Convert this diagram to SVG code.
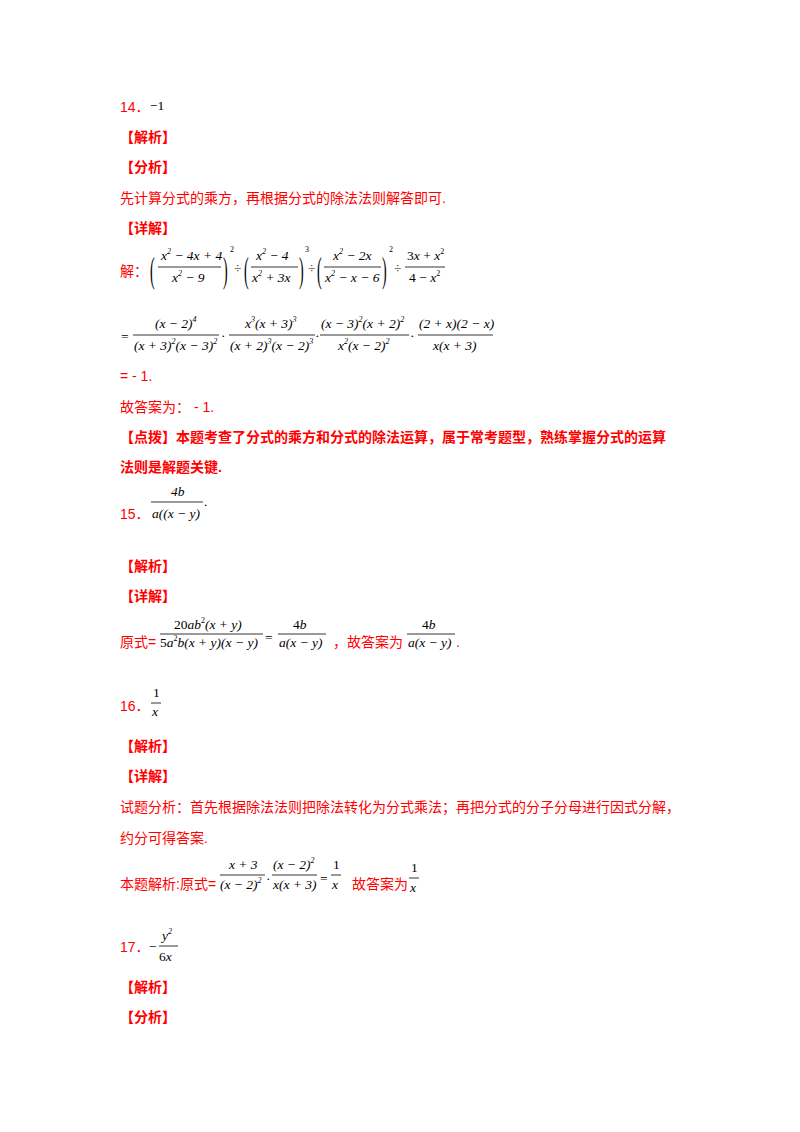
<svg xmlns="http://www.w3.org/2000/svg" width="800" height="1132" viewBox="0 0 800 1132">
<style>
.c{font-family:"Liberation Sans","Noto Sans CJK SC",sans-serif;font-size:14px;fill:#ff0000}
.b{font-family:"Liberation Sans","Noto Sans CJK SC",sans-serif;font-size:14px;fill:#ff0000;font-weight:bold}
.m{font-family:"Liberation Serif",serif;font-size:13.5px;fill:#000;font-style:italic}
.n{font-family:"Liberation Serif",serif;font-size:13.5px;fill:#000}
.s{font-family:"Liberation Serif",serif;font-size:8px;fill:#000}
.p{font-family:"Liberation Serif",serif;font-size:14px;fill:#000}
line{stroke:#000;stroke-width:0.8}
</style>
<rect width="800" height="1132" fill="#fff"/>
<text class="c" x="120" y="112">14．</text><text class="n" x="150" y="110">−1</text>
<text class="b" x="120" y="142">【解析】</text>
<text class="b" x="120" y="172">【分析】</text>
<text class="c" x="120" y="203">先计算分式的乘方，再根据分式的除法法则解答即可.</text>
<text class="b" x="120" y="233">【详解】</text>
<text class="c" x="120" y="276">解：</text>
<text class="p" transform="translate(150,272) scale(1,2.6)" y="4">(</text>
<text class="m" x="161" y="260">x<tspan class="s" dy="-6">2</tspan><tspan dy="6"> − 4x + 4</tspan></text>
<line x1="158" y1="267" x2="221" y2="267"/>
<text class="m" x="172" y="282">x<tspan class="s" dy="-6">2</tspan><tspan dy="6"> − 9</tspan></text>
<text class="p" transform="translate(223,272) scale(1,2.6)" y="4">)</text><text class="s" x="230" y="252">2</text>
<text class="n" x="234" y="272">÷</text>
<text class="p" transform="translate(244,272) scale(1,2.6)" y="4">(</text>
<text class="m" x="256" y="260">x<tspan class="s" dy="-6">2</tspan><tspan dy="6"> − 4</tspan></text>
<line x1="251" y1="267" x2="298" y2="267"/>
<text class="m" x="252" y="282">x<tspan class="s" dy="-6">2</tspan><tspan dy="6"> + 3x</tspan></text>
<text class="p" transform="translate(299,272) scale(1,2.6)" y="4">)</text><text class="s" x="305" y="252">3</text>
<text class="n" x="308" y="272">÷</text>
<text class="p" transform="translate(317,272) scale(1,2.6)" y="4">(</text>
<text class="m" x="333" y="260">x<tspan class="s" dy="-6">2</tspan><tspan dy="6"> − 2x</tspan></text>
<line x1="324" y1="267" x2="381" y2="267"/>
<text class="m" x="325" y="282">x<tspan class="s" dy="-6">2</tspan><tspan dy="6"> − x − 6</tspan></text>
<text class="p" transform="translate(382,272) scale(1,2.6)" y="4">)</text><text class="s" x="389" y="252">2</text>
<text class="n" x="394" y="272">÷</text>
<text class="n" x="407" y="260">3<tspan class="m">x</tspan> + <tspan class="m">x</tspan><tspan class="s" dy="-6">2</tspan></text>
<line x1="405" y1="267" x2="445" y2="267"/>
<text class="n" x="409" y="282">4 − <tspan class="m">x</tspan><tspan class="s" dy="-6">2</tspan></text>

<text class="n" x="121" y="341">=</text>
<text class="m" x="155" y="328">(x − 2)<tspan class="s" dy="-6">4</tspan></text>
<line x1="133" y1="335" x2="219" y2="335"/>
<text class="m" x="134" y="350">(x + 3)<tspan class="s" dy="-6">2</tspan><tspan dy="6">(x − 3)</tspan><tspan class="s" dy="-6">2</tspan></text>
<text class="n" x="221" y="340">·</text>
<text class="m" x="245" y="328">x<tspan class="s" dy="-6">3</tspan><tspan dy="6">(x + 3)</tspan><tspan class="s" dy="-6">3</tspan></text>
<line x1="229" y1="335" x2="315" y2="335"/>
<text class="m" x="230" y="350">(x + 2)<tspan class="s" dy="-6">3</tspan><tspan dy="6">(x − 2)</tspan><tspan class="s" dy="-6">3</tspan></text>
<text class="n" x="315" y="340">·</text>
<text class="m" x="321" y="328">(x − 3)<tspan class="s" dy="-6">2</tspan><tspan dy="6">(x + 2)</tspan><tspan class="s" dy="-6">2</tspan></text>
<line x1="320" y1="335" x2="409" y2="335"/>
<text class="m" x="338" y="350">x<tspan class="s" dy="-6">2</tspan><tspan dy="6">(x − 2)</tspan><tspan class="s" dy="-6">2</tspan></text>
<text class="n" x="410" y="340">·</text>
<text class="m" x="419" y="328">(2 + x)(2 − x)</text>
<line x1="418" y1="335" x2="493" y2="335"/>
<text class="m" x="433" y="350">x(x + 3)</text>

<text class="c" x="120" y="381">= - 1.</text>
<text class="c" x="120" y="412">故答案为： - 1.</text>
<text class="b" x="120" y="442">【点拨】本题考查了分式的乘方和分式的除法运算，属于常考题型，熟练掌握分式的运算</text>
<text class="b" x="120" y="472">法则是解题关键.</text>

<text class="c" x="120" y="519">15．</text>
<text class="m" x="171" y="496">4b</text>
<line x1="151" y1="502" x2="203" y2="502"/>
<text class="m" x="152" y="518">a((x − y)</text>
<text class="n" x="204" y="506">.</text>

<text class="b" x="120" y="571">【解析】</text>
<text class="b" x="120" y="601">【详解】</text>
<text class="c" x="120" y="647">原式=</text>
<text class="n" x="174" y="629">20<tspan class="m">ab</tspan><tspan class="s" dy="-6">2</tspan><tspan class="m" dy="6">(x + y)</tspan></text>
<line x1="160" y1="634" x2="263" y2="634"/>
<text class="n" x="160" y="647">5<tspan class="m">a</tspan><tspan class="s" dy="-6">2</tspan><tspan class="m" dy="6">b(x + y)(x − y)</tspan></text>
<text class="n" x="265" y="642">=</text>
<text class="n" x="293" y="629">4<tspan class="m">b</tspan></text>
<line x1="278" y1="634" x2="326" y2="634"/>
<text class="m" x="279" y="647">a(x − y)</text>
<text class="c" x="333" y="647">，故答案为</text>
<text class="n" x="422" y="629">4<tspan class="m">b</tspan></text>
<line x1="407" y1="634" x2="455" y2="634"/>
<text class="m" x="408" y="647">a(x − y)</text>
<text class="c" x="456" y="647">.</text>

<text class="c" x="120" y="711">16．</text>
<text class="n" x="153" y="697">1</text>
<line x1="151" y1="703" x2="161" y2="703"/>
<text class="m" x="152" y="716">x</text>
<text class="b" x="120" y="751">【解析】</text>
<text class="b" x="120" y="781">【详解】</text>
<text class="c" x="120" y="812">试题分析：首先根据除法法则把除法转化为分式乘法；再把分式的分子分母进行因式分解，</text>
<text class="c" x="120" y="843">约分可得答案.</text>
<text class="c" x="120" y="889">本题解析:原式=</text>
<text class="m" x="229" y="869">x + 3</text>
<line x1="220" y1="875" x2="265" y2="875"/>
<text class="m" x="220" y="889">(x − 2)<tspan class="s" dy="-6">2</tspan></text>
<text class="n" x="266" y="883">·</text>
<text class="m" x="273" y="869">(x − 2)<tspan class="s" dy="-6">2</tspan></text>
<line x1="272" y1="875" x2="317" y2="875"/>
<text class="m" x="273" y="889">x(x + 3)</text>
<text class="n" x="320" y="883">=</text>
<text class="n" x="333" y="869">1</text>
<line x1="331" y1="875" x2="341" y2="875"/>
<text class="m" x="332" y="889">x</text>
<text class="c" x="352" y="889">故答案为</text>
<text class="n" x="411" y="872">1</text>
<line x1="409" y1="878" x2="419" y2="878"/>
<text class="m" x="410" y="892">x</text>

<text class="c" x="120" y="952">17．</text>
<text class="n" x="149" y="951">−</text>
<text class="m" x="162" y="940">y<tspan class="s" dy="-6">2</tspan></text>
<line x1="159" y1="946" x2="178" y2="946"/>
<text class="n" x="159" y="961">6<tspan class="m">x</tspan></text>
<text class="b" x="120" y="992">【解析】</text>
<text class="b" x="120" y="1022">【分析】</text>
</svg>
